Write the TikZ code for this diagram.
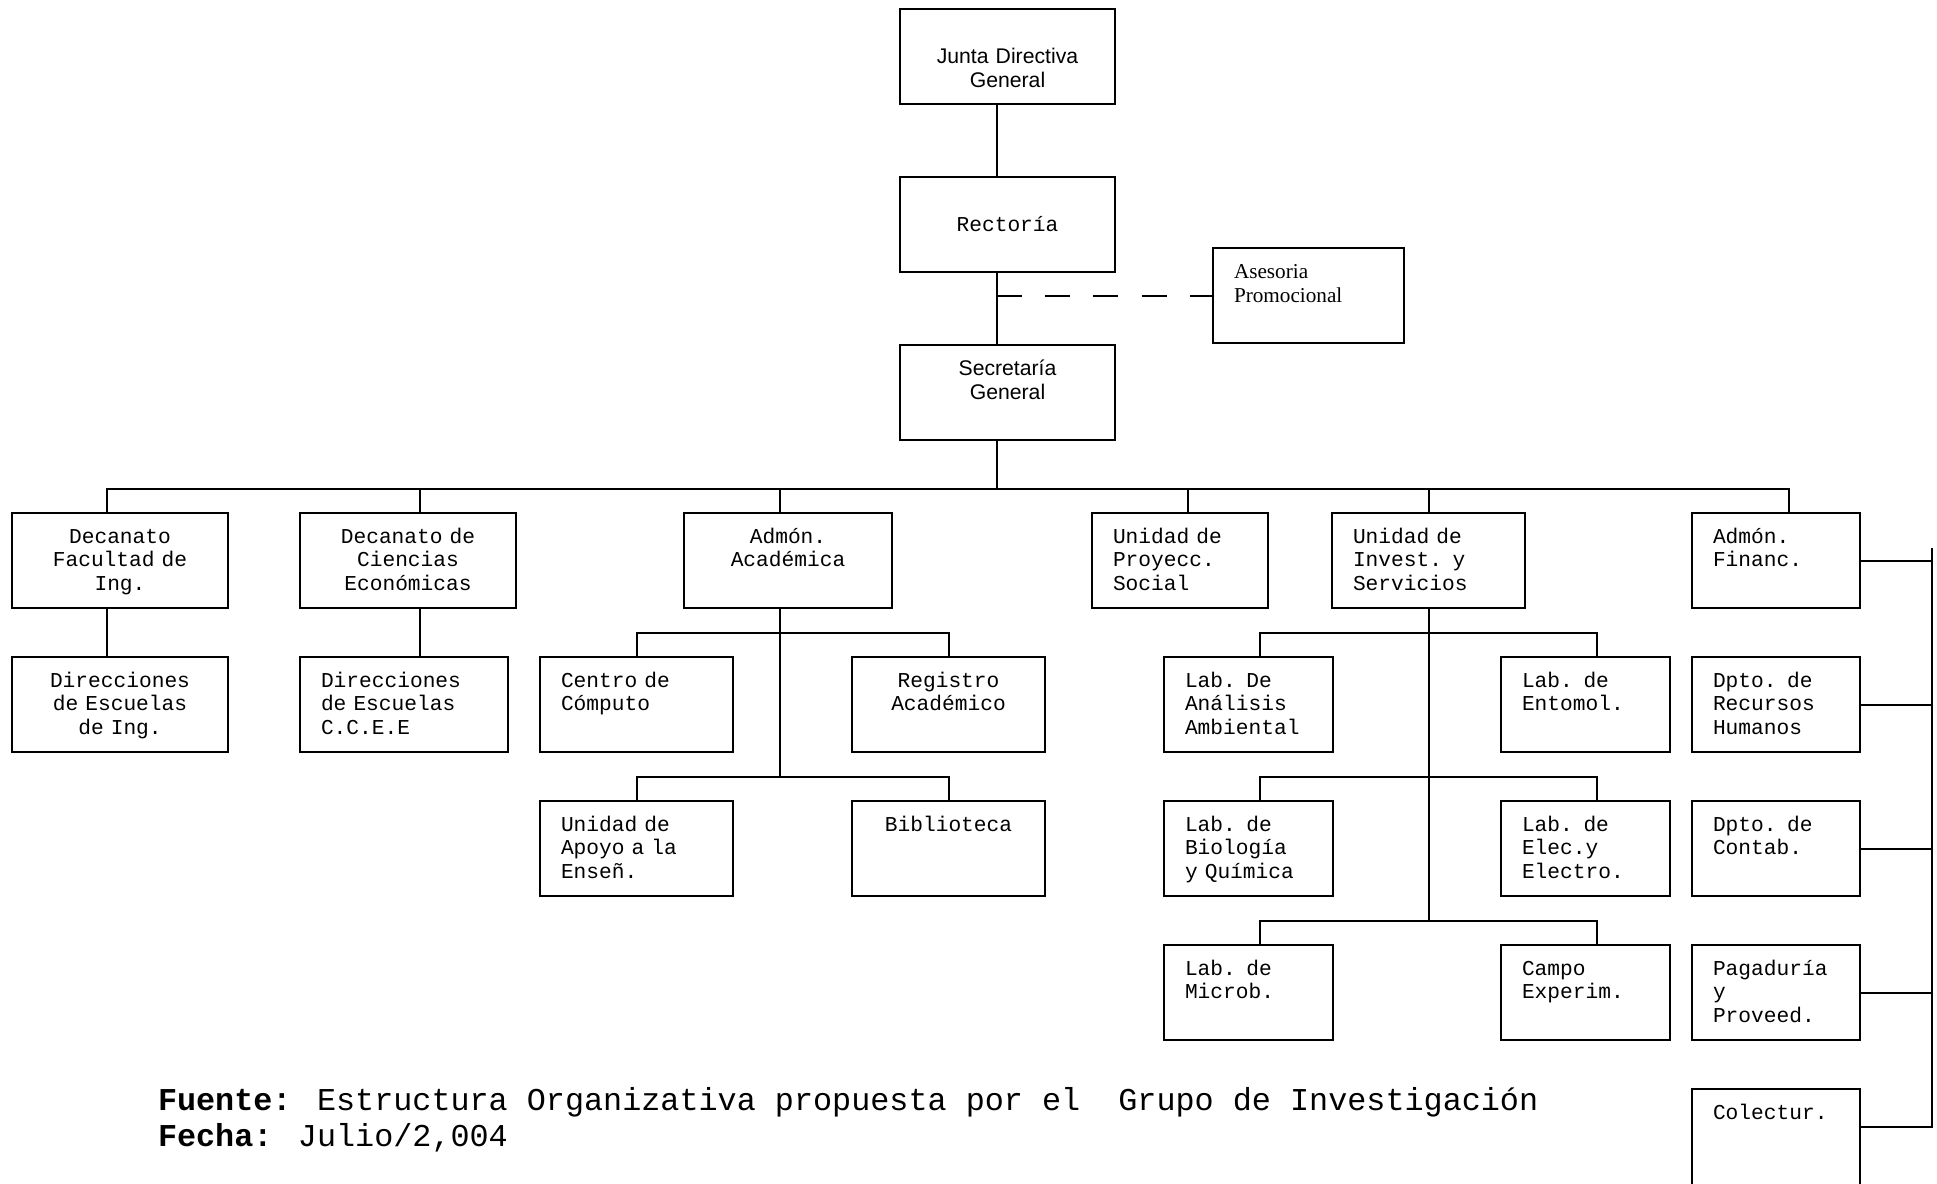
\documentclass[tikz,border=0pt]{standalone}
\usepackage{fontspec}
\setmainfont{Liberation Serif}
\newfontfamily\courfont{Liberation Mono}
\newfontfamily\arialfont{Liberation Sans}
\newfontfamily\timesfont{Liberation Serif}

\tikzset{
  box/.style={draw, line width=1pt, outer sep=0pt, anchor=north west,
    inner xsep=10.5pt, inner ysep=0pt, text height=15pt, text depth=32.5pt,
    align=left, font=\courfont\fontsize{10.6pt}{11.8pt}\selectfont},
  mid/.style={text height=27pt, text depth=20.5pt},
  sans/.style={font=\arialfont\fontsize{10.6pt}{12.3pt}\selectfont},
  serif/.style={font=\timesfont\fontsize{10.6pt}{12.3pt}\selectfont},
  foot/.style={anchor=base west, inner sep=0pt, font=\courfont\fontsize{15.9pt}{18pt}\selectfont},
}

\begin{document}
\begin{tikzpicture}[x=0.5pt, y=-0.5pt, line width=1pt]
  \useasboundingbox (0,0) rectangle (1937,1183);
  \def\unit(#1,#2)(#3)[#4]#5{\node[box,#4] (#3) at (#1,#2) {#5};}

  % top of the chart
  \unit(900,9)(junta)[sans, mid, text width=86.5pt, align=center]{Junta Directiva\\General}
  \unit(900,177)(rect)[mid, text width=86.5pt, align=center]{Rectoría}
  \unit(900,345)(secr)[sans, text width=86.5pt, align=center]{Secretaría\\General}
  \unit(1213,248)(asesor)[serif, text width=74.5pt]{Asesoria\\Promocional}

  % first row
  \unit(12,513)(dec1)[text width=87pt, align=center]{Decanato\\Facultad de\\Ing.}
  \unit(300,513)(dec2)[text width=87pt, align=center]{Decanato de\\Ciencias\\Económicas}
  \unit(684,513)(acad)[text width=83pt, align=center]{Admón.\\Académica}
  \unit(1092,513)(proy)[text width=67pt]{Unidad de\\Proyecc.\\Social}
  \unit(1332,513)(inv)[text width=75.5pt]{Unidad de\\Invest. y\\Servicios}
  \unit(1692,513)(fin)[text width=63pt]{Admón.\\Financ.}

  % second row and below
  \unit(12,657)(dir1)[text width=87pt, align=center]{Direcciones\\de Escuelas\\de Ing.}
  \unit(300,657)(dir2)[text width=83pt]{Direcciones\\de Escuelas\\C.C.E.E}
  \unit(540,657)(comp)[text width=75.5pt]{Centro de\\Cómputo}
  \unit(852,657)(reg)[text width=75.5pt, align=center]{Registro\\Académico}
  \unit(540,801)(apoyo)[text width=75.5pt]{Unidad de\\Apoyo a la\\Enseñ.}
  \unit(852,801)(biblio)[text width=75.5pt, align=center]{Biblioteca}
  \unit(1164,657)(lab1)[text width=63.5pt]{Lab. De\\Análisis\\Ambiental}
  \unit(1501,657)(lab2)[text width=63.5pt]{Lab. de\\Entomol.}
  \unit(1164,801)(lab3)[text width=63.5pt]{Lab. de\\Biología\\y Química}
  \unit(1501,801)(lab4)[text width=63.5pt]{Lab. de\\Elec.y\\Electro.}
  \unit(1164,945)(lab5)[text width=63.5pt]{Lab. de\\Microb.}
  \unit(1501,945)(campo)[text width=63.5pt]{Campo\\Experim.}
  \unit(1692,657)(rrhh)[text width=63pt]{Dpto. de\\Recursos\\Humanos}
  \unit(1692,801)(cont)[text width=63pt]{Dpto. de\\Contab.}
  \unit(1692,945)(pag)[text width=63pt]{Pagaduría\\y\\Proveed.}
  \unit(1692,1089)(colect)[text width=63pt, text depth=40pt]{Colectur.}

  \coordinate (trunk) at (997,0);
  \coordinate (bus) at (997,489);
  \coordinate (rtop) at (1932,548);

  % lines
  \draw (junta.south -| trunk) -- (rect.north -| trunk);
  \draw (rect.south -| trunk) -- (secr.north -| trunk);
  \draw[dash pattern=on 12.5pt off 11.6pt] (asesor.west -| trunk) -- (asesor.west);
  \draw (secr.south -| trunk) -- (bus);
  \draw ([xshift=-6.4pt]dec1.north) |- (bus) -| ([xshift=6.5pt]fin.north);
  \foreach \n/\dx in {dec2/6pt, acad/-4.25pt, proy/3.85pt, inv/0pt}
    \draw ([xshift=\dx]\n.north) -- ([xshift=\dx]\n.north |- bus);
  \draw ([xshift=-6.4pt]dec1.south) -- ([xshift=-6.4pt]dec1.south |- dir1.north);
  \draw ([xshift=6pt]dec2.south) -- ([xshift=6pt]dec2.south |- dir2.north);

  \draw ([xshift=-4.25pt]acad.south) -- ++(0,25) coordinate (a1) -- ++(0,144) coordinate (a2);
  \draw (comp.north) |- (a1) -| (reg.north);
  \draw (apoyo.north) |- (a2) -| (biblio.north);

  \draw (inv.south) -- ++(0,25) coordinate (i1) -- ++(0,144) coordinate (i2) -- ++(0,144) coordinate (i3);
  \foreach \l/\r/\b in {lab1/lab2/i1, lab3/lab4/i2, lab5/campo/i3}
    \draw ([xshift=5.5pt]\l.north) |- (\b) -| ([xshift=5.5pt]\r.north);

  \foreach \n in {fin,rrhh,cont,pag}
    \draw (\n.east) -- (\n.east -| rtop);
  \draw (rtop) |- ([yshift=-18.8pt]colect.north east);

  % source note
  \node[foot] (fuente) at (157,1110) {\textbf{Fuente:} Estructura Organizativa propuesta por el~ Grupo de Investigación};
  \node[foot] (fecha) at (157,1146) {\textbf{Fecha:} Julio/2,004};
\end{tikzpicture}
\end{document}
